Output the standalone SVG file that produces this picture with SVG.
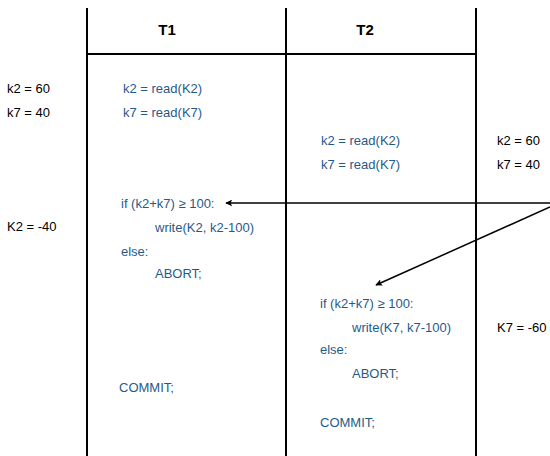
<svg xmlns="http://www.w3.org/2000/svg" width="550" height="456" viewBox="0 0 550 456">
  <defs>
    <marker id="arrow" viewBox="0 0 10 10" refX="9" refY="5" markerWidth="7" markerHeight="7" markerUnits="userSpaceOnUse" orient="auto">
      <path d="M0,0 L10,5 L0,10 L2.5,5 Z" fill="#000"/>
    </marker>
    <style>
      .grid { stroke: #000; stroke-width: 2; fill: none; }
      .head { font-family: "Liberation Sans", Arial, sans-serif; font-size: 15px; font-weight: bold; fill: #000; text-anchor: middle; }
      .val { font-family: "Liberation Sans", Arial, sans-serif; font-size: 13px; fill: #000; }
      .op { font-family: "Liberation Sans", Arial, sans-serif; font-size: 13px; fill: #1f5b8a; }
      .link { stroke: #000; stroke-width: 1.5; fill: none; marker-end: url(#arrow); }
    </style>
  </defs>

  <rect width="550" height="456" fill="#fff"/>

  <!-- table frame -->
  <g id="table">
    <line class="grid" x1="87" y1="8" x2="87" y2="456"/>
    <line class="grid" x1="286" y1="8" x2="286" y2="456"/>
    <line class="grid" x1="476" y1="8" x2="476" y2="456"/>
    <line class="grid" x1="86" y1="54" x2="477" y2="54"/>
  </g>

  <g id="header-t1"><text class="head" x="167" y="35">T1</text></g>
  <g id="header-t2"><text class="head" x="365" y="35">T2</text></g>

  <!-- values before / after on the left -->
  <g id="left-values">
    <text class="val" x="7" y="93">k2 = 60</text>
    <text class="val" x="7" y="117">k7 = 40</text>
    <text class="val" x="7" y="231">K2 = -40</text>
  </g>

  <!-- T1 operations -->
  <g id="t1-reads">
    <text class="op" x="123" y="93">k2 = read(K2)</text>
    <text class="op" x="123" y="117">k7 = read(K7)</text>
  </g>
  <g id="t1-check">
    <text class="op" x="121" y="208">if (k2+k7) ≥ 100:</text>
    <text class="op" x="155" y="232">write(K2, k2-100)</text>
    <text class="op" x="121" y="256">else:</text>
    <text class="op" x="155" y="278">ABORT;</text>
  </g>
  <g id="t1-commit"><text class="op" x="119" y="392">COMMIT;</text></g>

  <!-- T2 operations -->
  <g id="t2-reads">
    <text class="op" x="321" y="145">k2 = read(K2)</text>
    <text class="op" x="321" y="169">k7 = read(K7)</text>
  </g>
  <g id="t2-check">
    <text class="op" x="320" y="308">if (k2+k7) ≥ 100:</text>
    <text class="op" x="352" y="332">write(K7, k7-100)</text>
    <text class="op" x="320" y="354">else:</text>
    <text class="op" x="352" y="378">ABORT;</text>
  </g>
  <g id="t2-commit"><text class="op" x="320" y="427">COMMIT;</text></g>

  <!-- values on the right -->
  <g id="right-values">
    <text class="val" x="497" y="145">k2 = 60</text>
    <text class="val" x="497" y="169">k7 = 40</text>
    <text class="val" x="497" y="332">K7 = -60</text>
  </g>

  <!-- connectors -->
  <g id="connectors">
    <line class="link" x1="550" y1="203" x2="226" y2="203"/>
    <line class="link" x1="550" y1="207" x2="376" y2="285"/>
  </g>
</svg>
